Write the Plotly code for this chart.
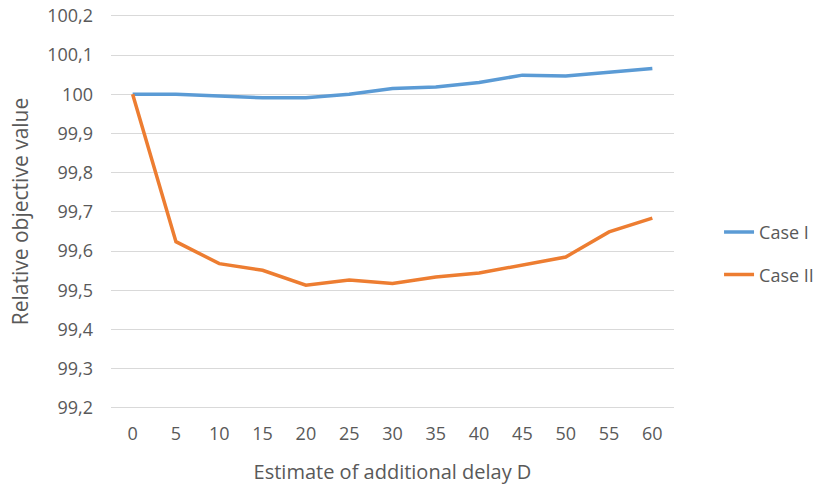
import plotly.graph_objects as go

delays = ["0", "5", "10", "15", "20", "25", "30", "35", "40", "45", "50", "55", "60"]
case_1 = [100.0, 100.0, 99.996, 99.991, 99.991, 100.0, 100.015, 100.019, 100.03, 100.049, 100.047, 100.057, 100.066]
case_2 = [100.0, 99.624, 99.568, 99.551, 99.513, 99.526, 99.517, 99.534, 99.544, 99.564, 99.585, 99.649, 99.684]
y_ticks = [99.2, 99.3, 99.4, 99.5, 99.6, 99.7, 99.8, 99.9, 100.0, 100.1, 100.2]
y_tick_labels = ["99,2", "99,3", "99,4", "99,5", "99,6", "99,7", "99,8", "99,9", "100", "100,1", "100,2"]

font_family = "Open Sans, Liberation Sans, sans-serif"
text_color = "#595959"

fig = go.Figure()
fig.add_trace(go.Scatter(x=delays, y=case_1, mode="lines", name="Case I",
                         legendgroup="g1",
                         line=dict(color="#5B9BD5", width=3.5)))
fig.add_trace(go.Scatter(x=delays, y=case_2, mode="lines", name="Case II",
                         legendgroup="g2",
                         line=dict(color="#ED7D31", width=3.5)))

fig.update_layout(
    width=831, height=487,
    margin=dict(l=111, r=152, t=14, b=78),
    paper_bgcolor="white", plot_bgcolor="white",
    font=dict(family=font_family, size=18, color=text_color),
    legend=dict(x=1.08, y=0.394, xanchor="left", yanchor="middle",
                font=dict(size=18, color=text_color), tracegroupgap=16,
                traceorder="grouped"),
    xaxis=dict(type="category", range=[-0.5, 12.5], showgrid=False,
               showline=False, zeroline=False, ticks="", automargin=False,
               ticklabelstandoff=12, tickfont=dict(size=18),
               title=dict(text="Estimate of additional delay D", standoff=20,
                          font=dict(size=20, color=text_color))),
    yaxis=dict(range=[99.197, 100.205], tickvals=y_ticks, ticktext=y_tick_labels,
               showgrid=True, gridcolor="#D9D9D9", gridwidth=1,
               zeroline=False, showline=False, ticks="", automargin=False,
               ticklabelstandoff=17, tickfont=dict(size=18),
               ticklabeloverflow="allow",
               title=dict(text="Relative objective value", standoff=12,
                          font=dict(size=21, color=text_color))),
)

fig.write_html("out.html", config={"displayModeBar": False},
               post_script="document.body.style.margin='0';")
